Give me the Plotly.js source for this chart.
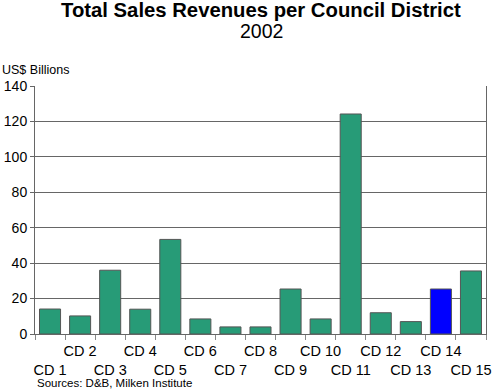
<!DOCTYPE html>
<html><head><meta charset="utf-8">
<script src="https://cdn.plot.ly/plotly-3.0.1.min.js"></script>
<style>body{margin:0;padding:0;background:#fff}#c{width:493px;height:389px}</style>
</head><body><div id="c"></div>
<script>
const districts = ["CD 1","CD 2","CD 3","CD 4","CD 5","CD 6","CD 7","CD 8","CD 9","CD 10","CD 11","CD 12","CD 13","CD 14","CD 15"];
const revenues = [14.1, 10.2, 36, 14, 53.4, 8.5, 4, 4, 25.4, 8.5, 124.2, 12, 7, 25.4, 35.6];
const highlight = "CD 14";
const yTicks = [0, 20, 40, 60, 80, 100, 120, 140];

const colors = districts.map(d => d === highlight ? "#0000FF" : "#279B77");
const tickText = districts.map((d, i) => i % 2 === 0 ? "<br>" + d : d);
const font = "Liberation Sans, Arial, sans-serif";

Plotly.newPlot("c", [{
  type: "bar", x: districts, y: revenues,
  marker: {color: colors, line: {color: "#555555", width: 1}},
  hoverinfo: "none"
}], {
  width: 493, height: 389,
  margin: {l: 35, r: 7, t: 86, b: 55},
  paper_bgcolor: "#fff", plot_bgcolor: "#fff",
  bargap: 0.3,
  font: {family: font, color: "#000", size: 14},
  xaxis: {type: "category", tickvals: districts, ticktext: tickText, tickangle: 0,
          tickson: "boundaries", ticks: "outside", ticklen: 5, tickcolor: "#888",
          ticklabelstandoff: 4,
          showline: true, linecolor: "#666", linewidth: 1, showgrid: false,
          tickfont: {size: 14.5}},
  yaxis: {range: [0, 140], tickvals: yTicks, ticks: "outside", ticklen: 4, tickcolor: "#666",
          showline: true, mirror: true, linecolor: "#666", linewidth: 1,
          showgrid: true, gridcolor: "#666", gridwidth: 1, zeroline: false,
          tickfont: {size: 14}},
  annotations: [
    {text: "<b>Total Sales Revenues per Council District</b>", xref: "paper", yref: "paper",
     x: 0.502, y: 1.307, xanchor: "center", yanchor: "middle", showarrow: false, font: {size: 20.3}},
    {text: "2002", xref: "paper", yref: "paper",
     x: 0.502, y: 1.222, xanchor: "center", yanchor: "middle", showarrow: false, font: {size: 19.5}},
    {text: "US$ Billions", xref: "paper", yref: "paper", x: -0.0776, y: 1.065, xanchor: "left", yanchor: "middle",
     showarrow: false, font: {size: 12.5}},
    {text: "Sources: D&B, Milken Institute", xref: "paper", yref: "paper", x: 0, y: -0.198,
     xanchor: "left", yanchor: "middle", showarrow: false, font: {size: 11.5}}
  ],
  showlegend: false
}, {displayModeBar: false, staticPlot: true});
</script></body></html>
